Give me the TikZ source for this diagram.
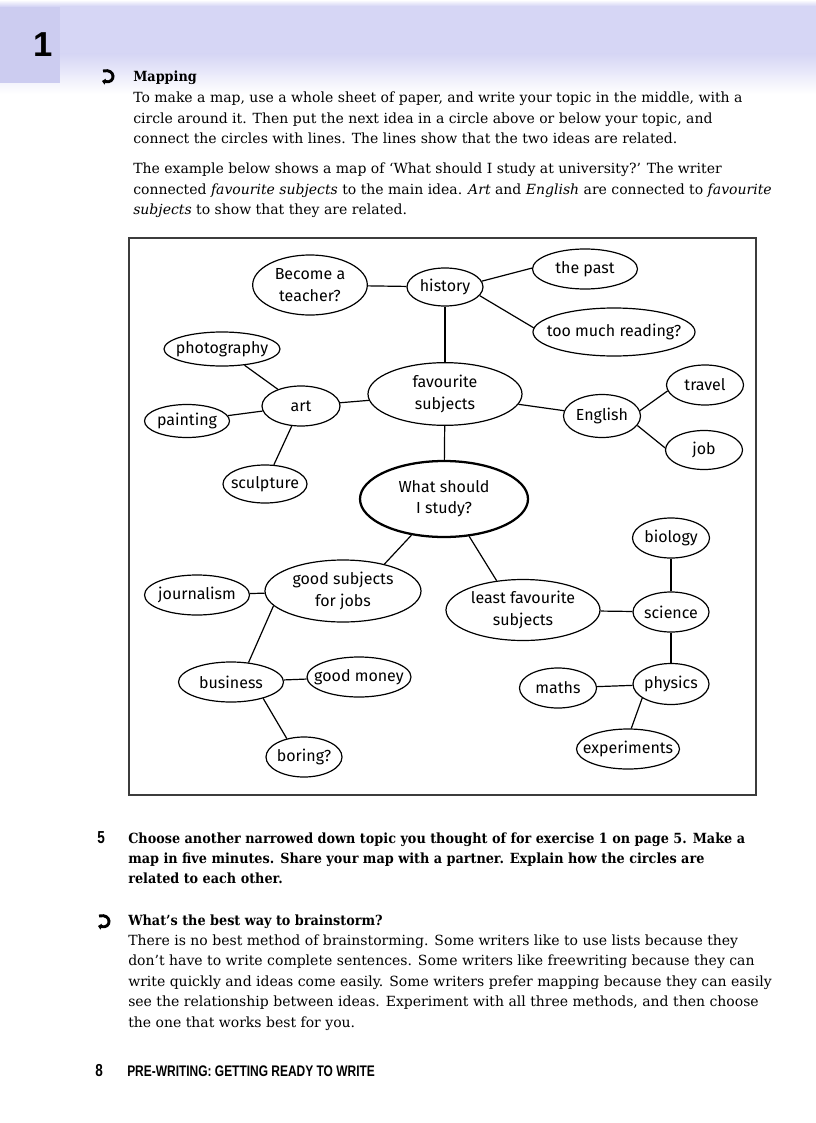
\documentclass[tikz,border=0pt]{standalone}
\usepackage{fontspec}
\setmainfont{DejaVu Serif}[BoldFeatures={FakeStretch=0.915}]
\newfontfamily\mapfont{Fira Sans}
\newfontfamily\headfont{Liberation Sans}
\newfontfamily\runfont{Liberation Sans}[FakeStretch=0.78]
\definecolor{bandbg}{RGB}{214,214,245}
\definecolor{tabbg}{RGB}{204,204,240}
\definecolor{framegray}{RGB}{60,60,60}
\usetikzlibrary{positioning,arrows.meta,shapes.geometric}

\begin{document}
\begin{tikzpicture}[x=0.75pt, y=-0.75pt,
  every node/.style={inner sep=0pt},
  para/.style={anchor=base west, align=left, font=\fontsize{10.5}{15.3}\selectfont},
  runtext/.style={anchor=base west, font=\runfont\bfseries\fontsize{11.5}{11.5}\selectfont},
  idea/.style={ellipse, draw, line width=0.9pt, inner sep=-15pt, align=center, font=\mapfont\fontsize{12}{16}\selectfont},
  topic/.style={idea, line width=1.7pt},
  link/.style={line width=0.9pt},
  bullet/.style={line width=2.2pt, -{Triangle[length=2.5pt, width=4.5pt]}}]
  \useasboundingbox (0,0) rectangle (816,1123);
  \fill[white] (0,0) rectangle (816,1123);

  % page head
  \shade[top color=white, bottom color=bandbg] (0,0) rectangle (816,6);
  \fill[bandbg] (0,6) rectangle (816,54);
  \shade[top color=bandbg, bottom color=white] (0,54) rectangle (816,94);
  \fill[tabbg] (0,7) rectangle (60,83);
  \node[font=\headfont\bfseries\fontsize{26}{26}\selectfont] (chapter) at (43,45) {1};

  % mapping text (multi-line nodes sit on their last line)
  \draw[bullet] (103,71) .. controls (116,68) and (116,84) .. (102,81);
  \node[para] (mapping) at (133,82) {\textbf{Mapping}};
  \node[para] (howto) at (133,143.8) {To make a map, use a whole sheet of paper, and write your topic in the middle, with a\\circle around it. Then put the next idea in a circle above or below your topic, and\\connect the circles with lines. The lines show that the two ideas are related.};
  \node[para] (example) at (133,214.8) {The example below shows a map of `What should I study at university?' The writer\\connected \textit{favourite subjects} to the main idea. \textit{Art} and \textit{English} are connected to \textit{favourite}\\\textit{subjects} to show that they are related.};

  % the map
  \draw[framegray, line width=1.1pt] (129,238) rectangle (756,795);
  \node[topic, minimum width=126pt, minimum height=57pt] (study) at (444,499) {What should\\I study?};
  \node[idea, minimum width=115.5pt, minimum height=47pt] (fav) at (445,394) {favourite\\subjects};
  \node[idea, minimum width=57pt, minimum height=28.5pt] (history) at (445,287) {history};
  \node[idea, minimum width=86pt, minimum height=45pt] (teacher) at (310,285) {Become a\\teacher?};
  \node[idea, minimum width=78.75pt, minimum height=30pt] (past) at (585,269) {the past};
  \node[idea, minimum width=121.5pt, minimum height=36pt] (reading) at (614,332) {too much reading?};
  \node[idea, minimum width=58.5pt, minimum height=30pt] (art) at (301,406) {art};
  \node[idea, minimum width=87pt, minimum height=25.5pt] (photo) at (222,349) {photography};
  \node[idea, minimum width=63.75pt, minimum height=24.75pt] (painting) at (187,421) {painting};
  \node[idea, minimum width=63pt, minimum height=28.5pt] (sculpture) at (265,484) {sculpture};
  \node[idea, minimum width=57.75pt, minimum height=32.25pt] (english) at (602,416) {English};
  \node[idea, minimum width=57.75pt, minimum height=30pt] (travel) at (705,385) {travel};
  \node[idea, minimum width=57.75pt, minimum height=29.25pt] (job) at (704,450) {job};
  \node[idea, minimum width=117pt, minimum height=46.5pt] (jobs) at (343,591) {good subjects\\for jobs};
  \node[idea, minimum width=78.75pt, minimum height=30pt] (journalism) at (197,595) {journalism};
  \node[idea, minimum width=78.75pt, minimum height=30pt] (business) at (231,682) {business};
  \node[idea, minimum width=78pt, minimum height=30pt] (money) at (359,677) {good money};
  \node[idea, minimum width=57pt, minimum height=30pt] (boring) at (304,757) {boring?};
  \node[idea, minimum width=115.5pt, minimum height=45.75pt] (least) at (523,610) {least favourite\\subjects};
  \node[idea, minimum width=57.75pt, minimum height=30pt] (biology) at (671,538) {biology};
  \node[idea, minimum width=57pt, minimum height=30pt] (science) at (671,612) {science};
  \node[idea, minimum width=57.75pt, minimum height=30pt] (maths) at (558,688) {maths};
  \node[idea, minimum width=57pt, minimum height=30.75pt] (physics) at (671,684) {physics};
  \node[idea, minimum width=77.25pt, minimum height=30pt] (experiments) at (628,749) {experiments};

  \draw[link] (study) -- (fav);
  \draw[link] (fav) -- (history);
  \draw[link] (history) -- (teacher);
  \draw[link] (history.9) -- (past.179);
  \draw[link] (history.346) -- (reading.177);
  \draw[link] (fav) -- (art);
  \draw[link] (art) -- (photo);
  \draw[link] (art) -- (painting);
  \draw[link] (art) -- (sculpture);
  \draw[link] (fav) -- (english);
  \draw[link] (english.8) -- (travel.189);
  \draw[link] (english.345) -- (job.177);
  \draw[link] (study.228) -- (jobs.33);
  \draw[link] (jobs) -- (journalism);
  \draw[link] (jobs.192) -- (business.48);
  \draw[link] (business) -- (money);
  \draw[link] (business.333) -- (boring.133);
  \draw[link] (study.304) -- (least.132);
  \draw[link] (least) -- (science);
  \draw[link] (science) -- (biology);
  \draw[link] (science) -- (physics);
  \draw[link] (physics) -- (maths);
  \draw[link] (physics.206) -- (experiments.81);

  % exercise and brainstorm text
  \node[runtext, font=\runfont\bfseries\fontsize{13}{13}\selectfont] (exnum) at (97,843) {5};
  \node[para] (task) at (128,883.8) {\bfseries Choose another narrowed down topic you thought of for exercise 1 on page 5. Make a\\\bfseries map in five minutes. Share your map with a partner. Explain how the circles are\\\bfseries related to each other.};
  \draw[bullet] (99,916) .. controls (112,913) and (112,929) .. (98,926);
  \node[para] (besthead) at (128,925) {\textbf{What's the best way to brainstorm?}};
  \node[para] (bestway) at (128,1027.1) {There is no best method of brainstorming. Some writers like to use lists because they\\don't have to write complete sentences. Some writers like freewriting because they can\\write quickly and ideas come easily. Some writers prefer mapping because they can easily\\see the relationship between ideas. Experiment with all three methods, and then choose\\the one that works best for you.};

  % running foot
  \node[runtext, font=\runfont\bfseries\fontsize{13}{13}\selectfont] (pagenum) at (95,1076) {8};
  \node[runtext] (runhead) at (127,1076) {PRE-WRITING: GETTING READY TO WRITE};
\end{tikzpicture}
\end{document}
